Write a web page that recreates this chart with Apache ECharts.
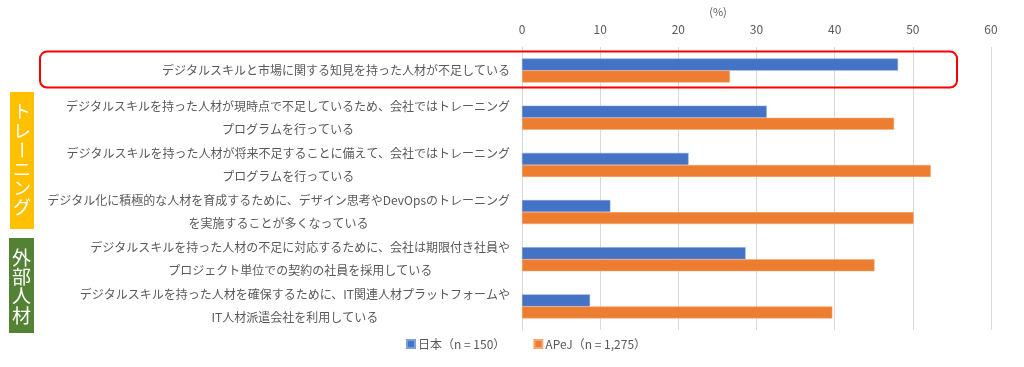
<!DOCTYPE html>
<html>
<head>
<meta charset="utf-8">
<script src="https://cdn.jsdelivr.net/npm/echarts@6/dist/echarts.min.js"></script>
<style>html,body{margin:0;padding:0;background:#fff;}#c{width:1024px;height:367px;}</style>
</head>
<body>
<div id="c"></div>
<script>
var categories = [
  'デジタルスキルと市場に関する知見を持った人材が不足している',
  'デジタルスキルを持った人材が現時点で不足しているため、会社ではトレーニング\nプログラムを行っている',
  'デジタルスキルを持った人材が将来不足することに備えて、会社ではトレーニング\nプログラムを行っている',
  'デジタル化に積極的な人材を育成するために、デザイン思考やDevOpsのトレーニング\nを実施することが多くなっている',
  'デジタルスキルを持った人材の不足に対応するために、会社は期限付き社員や\nプロジェクト単位での契約の社員を採用している',
  'デジタルスキルを持った人材を確保するために、IT関連人材プラットフォームや\nIT人材派遣会社を利用している'
];
var seriesNames = ['日本（n = 150）', 'APeJ（n = 1,275）'];
var japanValues = [48.1, 31.3, 21.3, 11.3, 28.6, 8.7];
var apejValues = [26.6, 47.6, 52.3, 50.1, 45.1, 39.7];
var xTicks = [0, 10, 20, 30, 40, 50, 60];
var unitLabel = '(%)';
var groupTraining = 'トレーニング';
var groupExternal = '外部人材';

var FONT = '"Noto Sans CJK JP", "Noto Sans", sans-serif';
var TXT = '#595959';

var chart = echarts.init(document.getElementById('c'));

function verticalChars(text, cx, cy, step, size) {
  var chars = Array.from(text);
  var start = cy - step * (chars.length - 1) / 2;
  return chars.map(function (ch, i) {
    return {
      type: 'text', x: cx, y: start + i * step,
      rotation: ch === 'ー' ? -Math.PI / 2 : 0,
      style: { text: ch, fill: '#fff', font: 'normal ' + size + 'px ' + FONT, align: 'center', verticalAlign: 'middle' },
      z: 20
    };
  });
}

var option = {
  animation: false,
  textStyle: { fontFamily: FONT },
  grid: { left: 522, right: 33, top: 47, bottom: 37, containLabel: false },
  legend: {
    left: 401, top: 333,
    itemWidth: 8, itemHeight: 8, itemGap: 28,
    icon: 'rect',
    textStyle: { color: TXT, fontSize: 12, fontFamily: FONT, padding: [0, 0, 0, -2] },
    data: seriesNames
  },
  xAxis: {
    type: 'value', position: 'top', min: xTicks[0], max: xTicks[xTicks.length - 1], interval: 10,
    axisLine: { show: false }, axisTick: { show: false },
    axisLabel: { color: TXT, fontSize: 12, margin: 12, fontFamily: FONT },
    splitLine: { show: true, lineStyle: { color: '#d9d9d9', width: 1 } }
  },
  yAxis: {
    type: 'category', inverse: true, data: categories,
    axisLine: { show: true, lineStyle: { color: '#d9d9d9' } },
    axisTick: { show: false },
    axisLabel: {
      margin: 12, color: TXT, fontSize: 12, fontFamily: FONT, align: 'right',
      formatter: function (v) {
        return v.split('\n').map(function (l) { return '{a|' + l + '}'; }).join('\n');
      },
      rich: { a: { align: 'center', color: TXT, fontSize: 12, fontFamily: FONT, lineHeight: 23 } }
    }
  },
  series: [
    { name: seriesNames[0], type: 'bar', data: japanValues, barWidth: 12, barGap: '0%',
      itemStyle: { color: '#4472C4', borderColor: '#7f9fd8', borderWidth: 0.5 } },
    { name: seriesNames[1], type: 'bar', data: apejValues, barWidth: 12, barGap: '0%',
      itemStyle: { color: '#ED7D31', borderColor: '#f4a877', borderWidth: 0.5 } }
  ]
};
chart.setOption(option);

var cy0 = chart.convertToPixel({ yAxisIndex: 0 }, 0);
var graphics = [
  { type: 'text', x: 718, y: 12,
    style: { text: unitLabel, fill: TXT, font: 'normal 11px ' + FONT, align: 'center', verticalAlign: 'middle' } },
  { type: 'rect', shape: { x: 40, y: cy0 - 19, width: 917, height: 36, r: 7 },
    style: { fill: 'none', stroke: '#ff0000', lineWidth: 2 }, z: 10 },
  { type: 'rect', shape: { x: 10, y: 92, width: 24, height: 137 }, style: { fill: '#FFC000' }, z: 10 },
  { type: 'rect', shape: { x: 9, y: 238, width: 25, height: 95 }, style: { fill: '#548235' }, z: 10 }
];
graphics = graphics.concat(verticalChars(groupTraining, 22, 159.5, 19.2, 18));
graphics = graphics.concat(verticalChars(groupExternal, 21.5, 286.5, 19.3, 19));
chart.setOption({ graphic: graphics });
</script>
</body>
</html>
